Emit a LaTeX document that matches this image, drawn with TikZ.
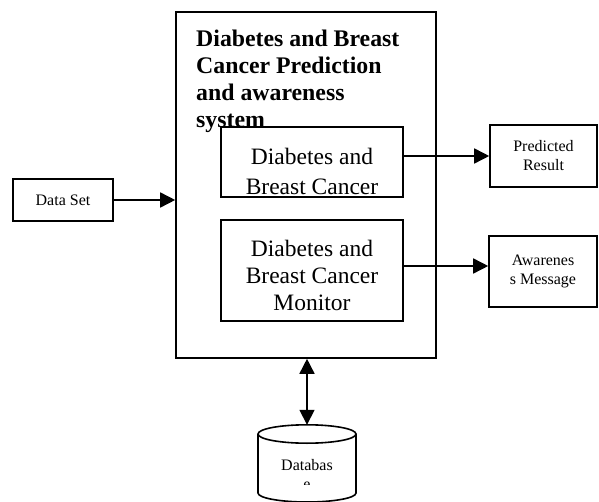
\documentclass[tikz,border=0pt]{standalone}
\usepackage{fontspec}
\setmainfont{Liberation Serif}
\usetikzlibrary{arrows.meta}

\begin{document}
\begin{tikzpicture}[x=1pt, y=1pt, align=center, >={Triangle[length=15pt, width=15pt]},
    box/.style={draw, rectangle, line width=1.6pt, fill=white, inner sep=0pt},
    big/.style={font=\fontsize{23.5}{27}\selectfont},
    small/.style={font=\fontsize{16}{19}\selectfont},
    link/.style={line width=1.6pt, ->}]
    \useasboundingbox (0,0) rectangle (599,501);

    \node [box, minimum width=260pt, minimum height=346pt] (system) at (306,316) {};
    \node [anchor=north west, align=left, inner sep=0pt, font=\fontsize{23.8}{27}\selectfont\bfseries] (title) at (196,471)
      {Diabetes and Breast\\Cancer Prediction\\and awareness\\system};

    \node [box, minimum width=182pt, minimum height=70pt] (predictor) at (312,339) {};
    \begin{scope}
      \clip ([yshift=2.5pt]predictor.south west) rectangle (predictor.north east);
      \node [anchor=north, inner sep=0pt, font=\fontsize{23.5}{30}\selectfont] (predictortext) at ([yshift=-22pt]predictor.north)
        {Diabetes and\\Breast Cancer};
    \end{scope}

    \node [box, minimum width=182pt, minimum height=101pt] (monitor) at (312,230.5) {};
    \node [big, anchor=north, inner sep=0pt] (monitortext) at ([yshift=-20.5pt]monitor.north)
      {Diabetes and\\Breast Cancer\\Monitor};

    \node [box, small, minimum width=100pt, minimum height=42pt] (dataset) at (63,301) {Data Set};
    \node [box, small, minimum width=107pt, minimum height=62pt] (result) at (543.5,345) {Predicted\\Result};
    \node [box, small, minimum width=108pt, minimum height=71pt] (message) at (543,229.5) {Awarenes\\s Message};

    % database drum
    \draw [line width=1.6pt, fill=white] (258,67) -- (258,8) arc [start angle=180, end angle=360, x radius=49, y radius=9] -- (356,67);
    \draw [line width=1.6pt, fill=white] (307,67) ellipse [x radius=49, y radius=9.2];
    \coordinate (database) at (307,76.2);
    \begin{scope}
      \clip (250,17) rectangle (360,56);
      \node [small, anchor=north, inner sep=0pt] (databasetext) at (307,42) {Databas\\e};
    \end{scope}

    \coordinate (msgin) at ([yshift=5.5pt]message.west);
    \draw [link] (dataset.east) -- (dataset.east -| system.west);
    \draw [link] (predictor.east |- result.west) -- (result.west);
    \draw [link] (msgin -| monitor.east) -- (msgin);
    \draw [link, <->] (database) -- (database |- system.south);
\end{tikzpicture}
\end{document}
